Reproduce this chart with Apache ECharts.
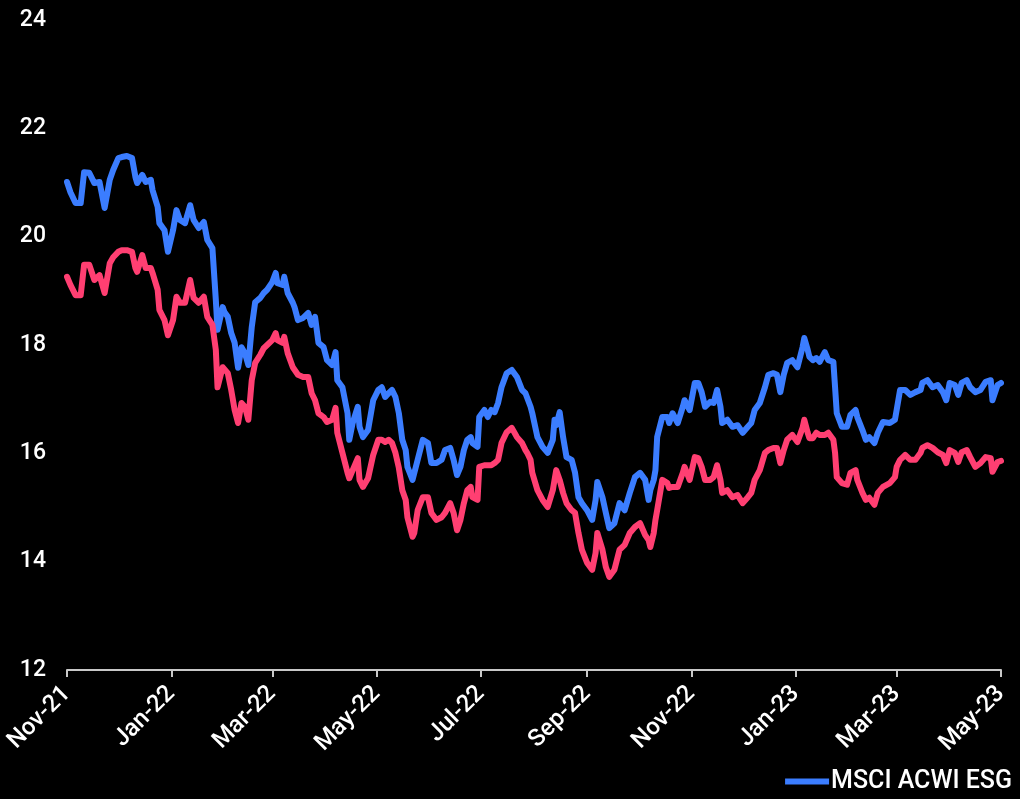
<!DOCTYPE html>
<html>
<head>
<meta charset="utf-8">
<script src="https://cdn.jsdelivr.net/npm/echarts@6/dist/echarts.min.js"></script>
<style>
  html, body { margin: 0; padding: 0; background: #000; }
  #chart { width: 1020px; height: 799px; background: #000; }
</style>
</head>
<body>
<div id="chart"></div>
<script>
// Observation dates shared by both index series
const dates = [
  '2021-11-01','2021-11-03','2021-11-06','2021-11-09','2021-11-11','2021-11-14','2021-11-17','2021-11-20','2021-11-23','2021-11-26',
  '2021-11-28','2021-12-01','2021-12-03','2021-12-06','2021-12-09','2021-12-11','2021-12-12','2021-12-15','2021-12-17','2021-12-20',
  '2021-12-21','2021-12-24','2021-12-25','2021-12-28','2021-12-30','2022-01-02','2022-01-04','2022-01-06','2022-01-09','2022-01-12',
  '2022-01-14','2022-01-17','2022-01-20','2022-01-22','2022-01-25','2022-01-27','2022-01-28','2022-01-31','2022-02-01','2022-02-03',
  '2022-02-05','2022-02-07','2022-02-09','2022-02-11','2022-02-13','2022-02-15','2022-02-17','2022-02-19','2022-02-22','2022-02-24',
  '2022-02-26','2022-03-01','2022-03-03','2022-03-04','2022-03-07','2022-03-08','2022-03-10','2022-03-13','2022-03-14','2022-03-16',
  '2022-03-19','2022-03-22','2022-03-24','2022-03-26','2022-03-28','2022-03-31','2022-04-02','2022-04-05','2022-04-07','2022-04-08',
  '2022-04-11','2022-04-14','2022-04-15','2022-04-17','2022-04-20','2022-04-21','2022-04-23','2022-04-26','2022-04-29','2022-05-02',
  '2022-05-04','2022-05-06','2022-05-08','2022-05-10','2022-05-12','2022-05-14','2022-05-16','2022-05-18','2022-05-19','2022-05-22',
  '2022-05-23','2022-05-25','2022-05-28','2022-05-29','2022-05-31','2022-06-02','2022-06-05','2022-06-08','2022-06-10','2022-06-13',
  '2022-06-15','2022-06-17','2022-06-19','2022-06-21','2022-06-23','2022-06-25','2022-06-26','2022-06-29','2022-06-30','2022-07-03',
  '2022-07-05','2022-07-07','2022-07-09','2022-07-11','2022-07-13','2022-07-16','2022-07-19','2022-07-22','2022-07-25','2022-07-27',
  '2022-07-28','2022-07-30','2022-07-31','2022-08-03','2022-08-06','2022-08-09','2022-08-12','2022-08-13','2022-08-14','2022-08-16',
  '2022-08-18','2022-08-20','2022-08-23','2022-08-25','2022-08-27','2022-08-29','2022-09-01','2022-09-04','2022-09-06','2022-09-07',
  '2022-09-10','2022-09-12','2022-09-14','2022-09-17','2022-09-20','2022-09-23','2022-09-26','2022-09-29','2022-10-02','2022-10-05',
  '2022-10-07','2022-10-08','2022-10-10','2022-10-11','2022-10-12','2022-10-15','2022-10-18','2022-10-19','2022-10-21','2022-10-24',
  '2022-10-27','2022-10-28','2022-10-31','2022-11-03','2022-11-05','2022-11-07','2022-11-09','2022-11-12','2022-11-14','2022-11-16',
  '2022-11-18','2022-11-19','2022-11-22','2022-11-25','2022-11-28','2022-12-01','2022-12-04','2022-12-06','2022-12-08','2022-12-11',
  '2022-12-14','2022-12-16','2022-12-19','2022-12-21','2022-12-23','2022-12-25','2022-12-27','2022-12-30','2023-01-02','2023-01-05',
  '2023-01-06','2023-01-08','2023-01-09','2023-01-11','2023-01-13','2023-01-15','2023-01-18','2023-01-20','2023-01-23','2023-01-24',
  '2023-01-25','2023-01-28','2023-01-31','2023-02-02','2023-02-05','2023-02-06','2023-02-09','2023-02-11','2023-02-13','2023-02-16',
  '2023-02-18','2023-02-21','2023-02-25','2023-02-28','2023-03-01','2023-03-03','2023-03-06','2023-03-09','2023-03-12','2023-03-15',
  '2023-03-16','2023-03-19','2023-03-22','2023-03-25','2023-03-28','2023-03-30','2023-04-01','2023-04-04','2023-04-06','2023-04-08',
  '2023-04-11','2023-04-13','2023-04-16','2023-04-19','2023-04-22','2023-04-25','2023-04-26','2023-04-29','2023-05-01'
];

// MSCI ACWI ESG (blue)
const esgValues = [
  21.01,20.82,20.62,20.62,21.19,21.18,20.99,21.01,20.53,21.05,
  21.23,21.45,21.47,21.49,21.45,21.10,20.99,21.14,21.01,21.05,
  20.86,20.55,20.25,20.12,19.72,20.12,20.49,20.31,20.25,20.58,
  20.31,20.16,20.27,19.94,19.79,18.83,18.28,18.70,18.61,18.52,
  18.22,18.04,17.58,17.96,17.85,17.63,18.33,18.79,18.87,18.96,
  19.02,19.16,19.33,19.14,19.11,19.26,18.96,18.78,18.70,18.46,
  18.50,18.59,18.37,18.52,18.04,17.96,17.72,17.63,17.87,17.35,
  17.22,16.74,16.25,16.56,16.86,16.49,16.30,16.43,16.98,17.17,
  17.22,17.04,17.11,17.17,17.04,16.74,16.25,16.06,15.75,15.51,
  15.51,15.88,16.25,16.28,16.19,15.82,15.82,15.88,16.06,16.10,
  15.88,15.60,15.75,16.06,16.25,16.30,16.19,16.12,16.67,16.80,
  16.67,16.80,16.76,16.93,17.22,17.48,17.54,17.41,17.17,17.11,
  17.08,16.86,16.74,16.30,16.12,16.01,16.25,16.62,16.52,16.76,
  16.30,15.93,15.88,15.64,15.19,15.08,14.95,14.77,15.14,15.47,
  15.19,14.90,14.62,14.71,15.08,14.95,15.27,15.56,15.64,15.51,
  15.14,15.32,15.51,15.69,16.30,16.67,16.67,16.56,16.74,16.56,
  16.86,16.98,16.80,17.30,17.30,17.13,16.86,16.95,16.93,17.17,
  16.86,16.56,16.62,16.49,16.52,16.38,16.49,16.56,16.80,16.93,
  17.22,17.45,17.48,17.45,17.13,17.45,17.67,17.72,17.59,17.96,
  18.13,17.91,17.78,17.72,17.76,17.69,17.87,17.72,17.69,17.22,
  16.74,16.49,16.49,16.71,16.80,16.67,16.43,16.25,16.30,16.19,
  16.38,16.58,16.56,16.62,16.80,17.17,17.17,17.08,17.13,17.17,
  17.30,17.35,17.22,17.26,17.13,16.98,17.30,17.26,17.08,17.30,
  17.35,17.22,17.13,17.17,17.32,17.35,16.98,17.26,17.30
];

// MSCI ACWI (pink)
const acwiValues = [
  19.26,19.11,18.92,18.92,19.48,19.48,19.20,19.29,18.96,19.51,
  19.62,19.72,19.75,19.75,19.72,19.42,19.35,19.66,19.42,19.42,
  19.33,19.02,18.65,18.46,18.18,18.46,18.89,18.78,18.78,19.20,
  18.87,18.78,18.89,18.52,18.37,17.91,17.22,17.59,17.58,17.48,
  17.17,16.80,16.56,16.93,16.86,16.62,17.35,17.67,17.82,17.94,
  18.00,18.09,18.22,18.09,18.04,18.15,17.85,17.59,17.59,17.45,
  17.41,17.41,17.11,16.98,16.74,16.67,16.58,16.62,16.84,16.38,
  16.01,15.64,15.54,15.69,15.91,15.51,15.38,15.54,15.97,16.25,
  16.25,16.21,16.25,16.19,16.01,15.73,15.32,15.14,14.82,14.46,
  14.53,14.95,15.19,15.19,15.19,14.90,14.77,14.82,14.90,15.08,
  14.90,14.58,14.77,15.08,15.32,15.38,15.19,15.14,15.75,15.78,
  15.78,15.78,15.82,15.88,16.19,16.39,16.47,16.30,16.19,16.06,
  16.01,15.88,15.64,15.32,15.14,15.01,15.32,15.51,15.69,15.51,
  15.27,15.08,14.95,14.90,14.53,14.22,13.98,13.85,14.16,14.53,
  14.22,13.90,13.72,13.85,14.22,14.31,14.53,14.64,14.71,14.49,
  14.40,14.27,14.53,14.77,14.95,15.51,15.45,15.36,15.38,15.38,
  15.64,15.75,15.51,15.93,15.91,15.75,15.51,15.51,15.56,15.78,
  15.51,15.27,15.32,15.19,15.23,15.08,15.19,15.27,15.51,15.69,
  16.01,16.06,16.10,16.10,15.82,16.06,16.25,16.34,16.21,16.47,
  16.62,16.38,16.28,16.28,16.38,16.34,16.34,16.38,16.25,16.01,
  15.56,15.45,15.42,15.64,15.69,15.51,15.27,15.14,15.18,15.05,
  15.27,15.38,15.45,15.56,15.75,15.88,15.97,15.88,15.88,16.01,
  16.10,16.15,16.10,16.02,15.97,15.82,16.06,16.01,15.84,16.02,
  16.06,15.93,15.75,15.82,15.93,15.91,15.66,15.84,15.86
];

// Axis ticks: one every two months
const tickDates = ['2021-11-01','2022-01-01','2022-03-01','2022-05-01','2022-07-01','2022-09-01',
                   '2022-11-01','2023-01-01','2023-03-01','2023-05-01'];
const tickLabels = ['Nov-21','Jan-22','Mar-22','May-22','Jul-22','Sep-22',
                    'Nov-22','Jan-23','Mar-23','May-23'];

const esgName = 'MSCI ACWI ESG';
const acwiName = 'MSCI ACWI';

const toTime = s => new Date(s + 'T00:00:00Z').getTime();
const tickTimes = tickDates.map(toTime);

const chart = echarts.init(document.getElementById('chart'), null, { renderer: 'canvas' });

const font = 'Roboto, Liberation Sans, Arial, sans-serif';

chart.setOption({
  backgroundColor: '#000',
  animation: false,
  grid: { left: 67, right: 19, top: 20, bottom: 129, containLabel: false },
  legend: {
    data: [esgName],
    right: 3,
    bottom: 0,
    icon: 'rect',
    itemWidth: 44,
    itemHeight: 6,
    itemGap: 10,
    textStyle: { color: '#fff', fontSize: 25, fontWeight: 500, fontFamily: font, padding: [0, 0, 0, -3] }
  },
  xAxis: {
    type: 'value',
    min: tickTimes[0],
    max: tickTimes[tickTimes.length - 1],
    splitLine: { show: false },
    axisLine: { show: true, lineStyle: { color: '#c8c8c8', width: 2 } },
    axisTick: {
      show: true, length: 7, inside: false,
      lineStyle: { color: '#c8c8c8', width: 2 },
      customValues: tickTimes
    },
    axisLabel: {
      customValues: tickTimes,
      rotate: 45,
      margin: 20,
      color: '#fff',
      fontSize: 24,
      fontWeight: 500,
      fontFamily: font,
      formatter: function (value) {
        const i = tickTimes.indexOf(value);
        return i >= 0 ? tickLabels[i] : '';
      }
    }
  },
  yAxis: {
    type: 'value',
    min: 12,
    max: 24,
    interval: 2,
    splitLine: { show: false },
    axisLine: { show: false },
    axisTick: { show: false },
    axisLabel: { color: '#fff', fontSize: 23, fontWeight: 500, fontFamily: font, margin: 21 }
  },
  series: [
    {
      name: esgName,
      type: 'line',
      data: dates.map((d, i) => [toTime(d), esgValues[i]]),
      showSymbol: false,
      symbol: 'none',
      color: '#3b7dff',
      lineStyle: { color: '#3b7dff', width: 6, join: 'round', cap: 'round' }
    },
    {
      name: acwiName,
      type: 'line',
      data: dates.map((d, i) => [toTime(d), acwiValues[i]]),
      showSymbol: false,
      symbol: 'none',
      color: '#ff3f72',
      lineStyle: { color: '#ff3f72', width: 6, join: 'round', cap: 'round' }
    }
  ]
});
</script>
</body>
</html>
